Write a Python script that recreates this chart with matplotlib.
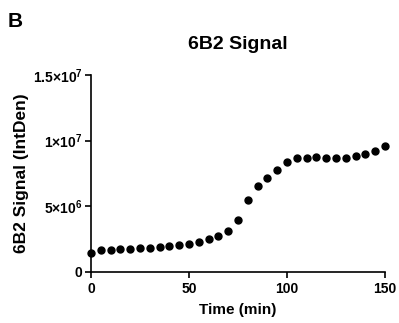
import matplotlib
matplotlib.use("Agg")
import matplotlib.pyplot as plt

# Data
time_min = [0, 5, 10, 15, 20, 25, 30, 35, 40, 45, 50, 55, 60, 65, 70, 75,
            80, 85, 90, 95, 100, 105, 110, 115, 120, 125, 130, 135, 140, 145, 150]
signal_1e6 = [1.47, 1.68, 1.68, 1.73, 1.75, 1.80, 1.83, 1.88, 1.95, 2.03, 2.13,
              2.28, 2.49, 2.74, 3.15, 3.93, 5.46, 6.55, 7.13, 7.77, 8.35, 8.66,
              8.71, 8.78, 8.68, 8.68, 8.66, 8.83, 9.01, 9.24, 9.62]
signal = [v * 1e6 for v in signal_1e6]

y_ticks = [0, 5e6, 1e7, 1.5e7]
y_ticklabels = ["0", r"$5{\times}10^{6}$", r"$1{\times}10^{7}$", r"$1.5{\times}10^{7}$"]
x_ticks = [0, 50, 100, 150]

plt.rcParams["font.family"] = ["Liberation Sans", "DejaVu Sans"]
plt.rcParams["font.weight"] = "bold"
plt.rcParams["mathtext.fontset"] = "custom"
plt.rcParams["mathtext.rm"] = "Liberation Sans:bold"
plt.rcParams["mathtext.it"] = "Liberation Sans:bold"
plt.rcParams["mathtext.bf"] = "Liberation Sans:bold"

fig = plt.figure(figsize=(3.99, 3.23), dpi=100)
ax = fig.add_axes([0.228, 0.158, 0.737, 0.610])

ax.plot(time_min, signal, "o", color="black", markersize=5, clip_on=False)

ax.set_xlim(0, 150)
ax.set_ylim(0, 1.5e7)
ax.set_xticks(x_ticks)
ax.set_yticks(y_ticks)
ax.set_yticklabels(y_ticklabels)

for side in ["top", "right"]:
    ax.spines[side].set_visible(False)
for side in ["left", "bottom"]:
    ax.spines[side].set_linewidth(1.2)
ax.tick_params(width=1.2, length=4, labelsize=10, pad=2)
ax.tick_params(axis="x", pad=3)

ax.set_xlabel("Time (min)", fontsize=11, fontweight="bold", labelpad=5)
ax.set_ylabel("6B2 Signal (IntDen)", fontsize=12.5, fontweight="bold")
ax.yaxis.set_label_coords(-0.212, 0.5)
ax.set_title("6B2 Signal", fontsize=14, fontweight="bold", pad=19)

fig.text(0.02, 0.915, "B", fontsize=15, fontweight="bold")

fig.savefig("out.png", dpi=100)
